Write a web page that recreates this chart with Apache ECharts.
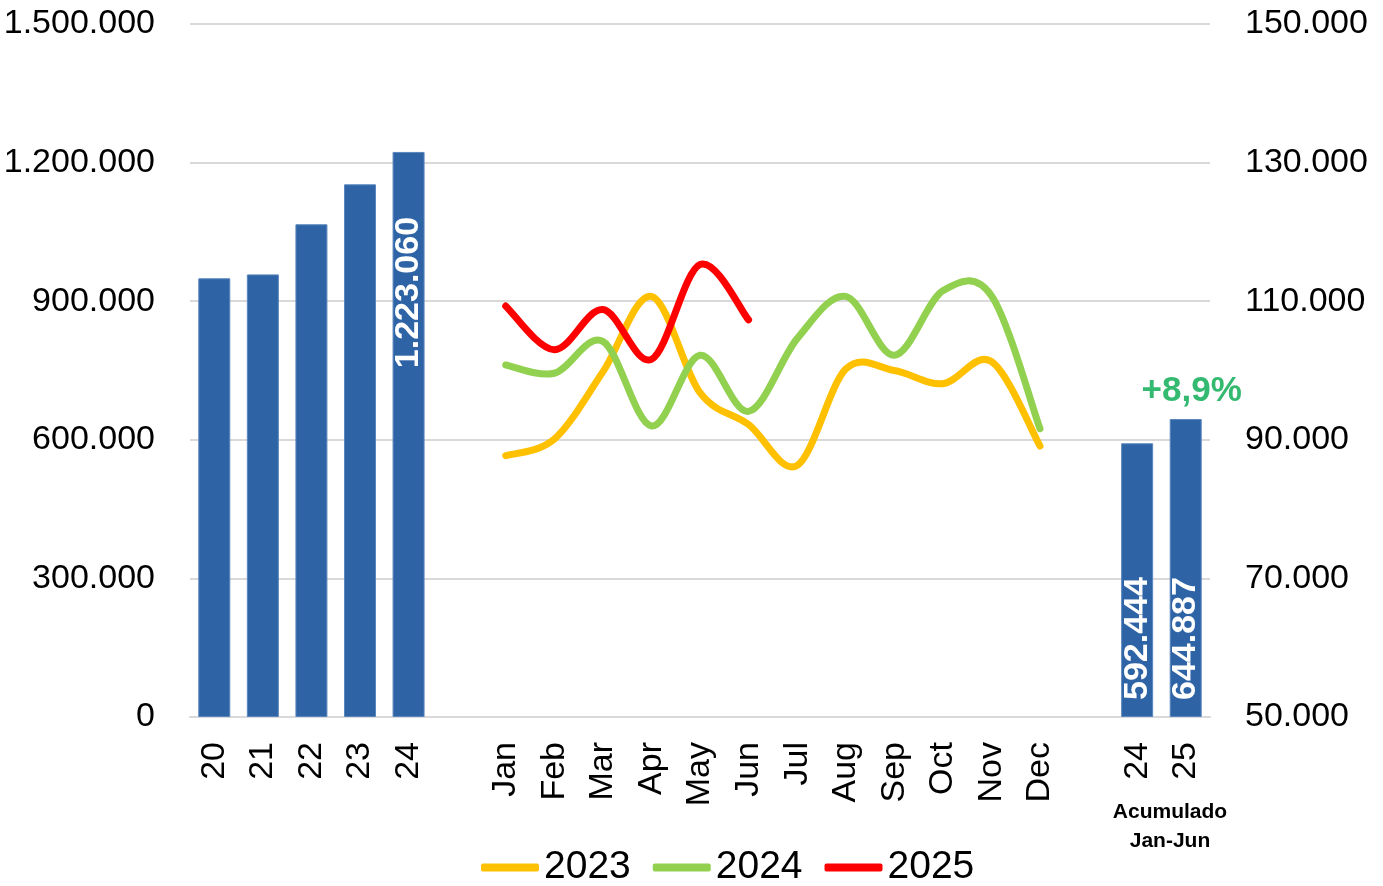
<!DOCTYPE html>
<html>
<head>
<meta charset="utf-8">
<script src="https://cdn.jsdelivr.net/npm/echarts@6/dist/echarts.min.js"></script>
<style>
html,body{margin:0;padding:0;background:#fff;}
#chart{width:1383px;height:886px;}
</style>
</head>
<body>
<div id="chart"></div>
<script>
// ---- data ----
const annualYears = ['20', '21', '22', '23', '24'];
const annualValues = [949600, 958000, 1066500, 1153000, 1223060];
const months = ['Jan','Feb','Mar','Apr','May','Jun','Jul','Aug','Sep','Oct','Nov','Dec'];
const cumYears = ['24', '25'];
const cumValues = [592444, 644887];
const cumChangeText = '+8,9%';
const series2023 = [87700, 90100, 99800, 110700, 96800, 92200, 86300, 100200, 100000, 98100, 101300, 89100];
const series2024 = [100800, 99600, 104200, 92000, 102200, 94100, 104600, 110700, 102200, 111500, 110800, 91600];
const series2025 = [109300, 103000, 108800, 101600, 115300, 107300];
const leftTicks = [0, 300000, 600000, 900000, 1200000, 1500000];
const rightTicks = [50000, 70000, 90000, 110000, 130000, 150000];
const lineNames = ['2023', '2024', '2025'];
const lineColors = ['#FFC000', '#92D050', '#FF0000'];

// ---- build category axis ----
const categories = [].concat(annualYears, [''], months, [''], cumYears);
const monthStart = annualYears.length + 1;
const cumStart = monthStart + months.length + 1;

function fmt(v) {
  return String(Math.round(v)).replace(/\B(?=(\d{3})+(?!\d))/g, '.');
}

const barData = categories.map(() => '-');
annualValues.forEach((v, i) => {
  const item = { value: v };
  if (i === annualValues.length - 1) {
    item.label = {
      show: true, position: 'insideTop', rotate: 90, align: 'right', verticalAlign: 'middle',
      distance: 65, color: '#fff', fontWeight: 'bold', fontSize: 34,
      fontFamily: 'Liberation Sans', formatter: p => fmt(p.value)
    };
  }
  barData[i] = item;
});
cumValues.forEach((v, i) => {
  barData[cumStart + i] = {
    value: v,
    label: {
      show: true, position: 'insideBottom', rotate: 90, align: 'left', verticalAlign: 'middle',
      distance: 17, color: '#fff', fontWeight: 'bold', fontSize: 34,
      fontFamily: 'Liberation Sans', formatter: p => fmt(p.value)
    }
  };
});

const changeData = categories.map(() => '-');
changeData[cumStart + 1] = cumValues[1];

// Excel-like smoothed line drawn through the axes' own scales
function smoothLineSeries(name, vals, color) {
  const data = vals.map((v, i) => [monthStart + i, v]);
  return {
    name: name,
    type: 'custom',
    yAxisIndex: 1,
    data: data,
    encode: { x: 0, y: 1 },
    itemStyle: { color: color },
    z: 3,
    silent: true,
    renderItem: function (params, api) {
      if (params.dataIndex !== 0) return null;
      const pts = data.map(d => api.coord(d));
      const n = pts.length;
      let path = 'M' + pts[0][0] + ' ' + pts[0][1];
      for (let i = 0; i < n - 1; i++) {
        const p0 = pts[Math.max(i - 1, 0)], p1 = pts[i], p2 = pts[i + 1], p3 = pts[Math.min(i + 2, n - 1)];
        const c1x = p1[0] + (p2[0] - p0[0]) / 6, c1y = p1[1] + (p2[1] - p0[1]) / 6;
        const c2x = p2[0] - (p3[0] - p1[0]) / 6, c2y = p2[1] - (p3[1] - p1[1]) / 6;
        path += ' C' + c1x + ' ' + c1y + ' ' + c2x + ' ' + c2y + ' ' + p2[0] + ' ' + p2[1];
      }
      return {
        type: 'path',
        shape: { pathData: path },
        style: { stroke: color, lineWidth: 7, fill: null, lineCap: 'round', lineJoin: 'round' }
      };
    }
  };
}

const lineSeries = [series2023, series2024, series2025].map((vals, k) => smoothLineSeries(lineNames[k], vals, lineColors[k]));

const chart = echarts.init(document.getElementById('chart'), null, { renderer: 'canvas' });
const option = {
  animation: false,
  backgroundColor: '#fff',
  textStyle: { fontFamily: 'Liberation Sans' },
  grid: { left: 190, right: 173, top: 24, bottom: 169, containLabel: false },
  legend: {
    data: lineNames,
    left: 476,
    top: 843,
    icon: 'roundRect',
    itemWidth: 58,
    itemHeight: 8,
    itemGap: 22,
    textStyle: { fontSize: 39, color: '#000', fontFamily: 'Liberation Sans' }
  },
  xAxis: {
    type: 'category',
    data: categories,
    boundaryGap: true,
    axisTick: { show: false },
    axisLine: { lineStyle: { color: '#D9D9D9', width: 2 } },
    axisLabel: {
      interval: 0, rotate: 90, margin: 25, fontSize: 34, color: '#000',
      fontFamily: 'Liberation Sans'
    },
    splitLine: { show: false }
  },
  yAxis: [
    {
      type: 'value', min: leftTicks[0], max: leftTicks[leftTicks.length - 1],
      interval: leftTicks[1] - leftTicks[0],
      axisLine: { show: false }, axisTick: { show: false },
      axisLabel: { margin: 35, fontSize: 34, color: '#000', fontFamily: 'Liberation Sans', formatter: v => fmt(v) },
      splitLine: { lineStyle: { color: '#D9D9D9', width: 2 } }
    },
    {
      type: 'value', min: rightTicks[0], max: rightTicks[rightTicks.length - 1],
      interval: rightTicks[1] - rightTicks[0],
      axisLine: { show: false }, axisTick: { show: false },
      axisLabel: { margin: 35, fontSize: 34, color: '#000', fontFamily: 'Liberation Sans', formatter: v => fmt(v) },
      splitLine: { show: false }
    }
  ],
  series: [
    {
      name: 'Total',
      type: 'bar',
      yAxisIndex: 0,
      data: barData,
      barWidth: 32,
      itemStyle: { color: '#2E64A6', borderColor: '#5A86BD', borderWidth: 1 },
      z: 2
    },
    ...lineSeries,
    {
      name: 'change',
      type: 'scatter',
      yAxisIndex: 0,
      data: changeData,
      symbolSize: 1,
      itemStyle: { color: 'rgba(0,0,0,0)' },
      label: {
        show: true, position: 'top', distance: 10, offset: [6, 0],
        formatter: cumChangeText, color: '#00A84C', fontWeight: 'bold', fontSize: 35,
        fontFamily: 'Liberation Sans'
      },
      z: 5
    }
  ],
  graphic: [
    {
      type: 'text', x: 1170, y: 798,
      style: { text: 'Acumulado\nJan-Jun', fill: '#000', font: 'bold 21px "Liberation Sans"', align: 'center', textAlign: 'center', lineHeight: 29 }
    }
  ]
};
chart.setOption(option);
</script>
</body>
</html>
